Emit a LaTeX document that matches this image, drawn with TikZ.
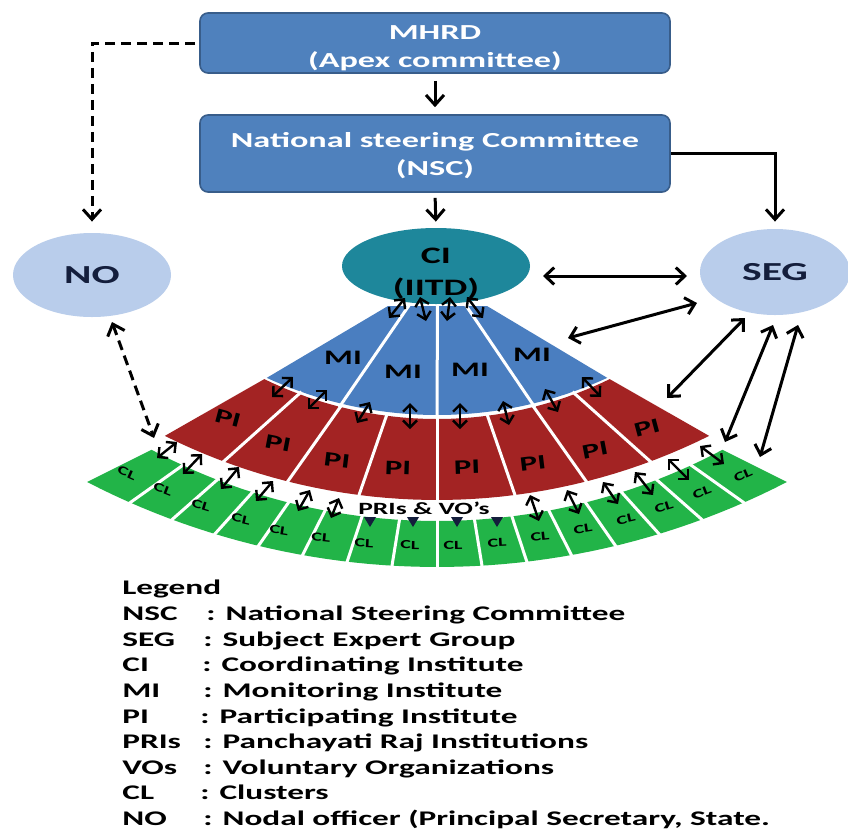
\documentclass[tikz,border=0pt]{standalone}
\usepackage{fontspec}
\setmainfont{Carlito}[FakeStretch=1.6]
\usetikzlibrary{arrows.meta,calc,shapes.geometric}
\definecolor{boxblue}{RGB}{79,129,189}
\definecolor{boxedge}{RGB}{56,93,138}
\definecolor{miblue}{RGB}{74,126,192}
\definecolor{pired}{RGB}{163,35,35}
\definecolor{clgreen}{RGB}{34,180,72}
\definecolor{citeal}{RGB}{30,135,155}
\definecolor{lightblue}{RGB}{185,205,235}
\definecolor{darktext}{RGB}{20,30,60}
\begin{document}
\begin{tikzpicture}[x=0.5pt,y=-0.5pt,
  hbox/.style={draw=boxedge, line width=0.8pt, fill=boxblue, rounded corners=4pt,
    minimum width=235pt, text=white, align=center, inner sep=0pt,
    font=\bfseries\fontsize{10.7}{14}\selectfont},
  oval/.style={ellipse, fill=lightblue, inner sep=0pt, text=darktext,
    font=\bfseries\fontsize{13}{15}\selectfont},
  arr/.style={line width=1.5pt, -{Straight Barb[length=5pt,width=9pt]}},
  dsh/.style={line width=1.5pt, dash pattern=on 5pt off 3pt},
  dbl/.style={line width=1.5pt, {Straight Barb[length=4.5pt,width=8.5pt]}-{Straight Barb[length=4.5pt,width=8.5pt]}},
  dbls/.style={line width=1.2pt, {Straight Barb[length=3.5pt,width=7pt]}-{Straight Barb[length=3.5pt,width=7pt]}},
  divline/.style={white, line width=1.5pt},
  lab/.style={inner sep=0pt, text=black, font=\bfseries\fontsize{10.3}{12}\selectfont},
  cllab/.style={inner sep=0pt, text=black, font=\bfseries\fontsize{6.2}{7}\selectfont},
  leg/.style={anchor=base west, inner sep=0pt, text=black, font=\bfseries\fontsize{10.4}{13}\selectfont}
]
\useasboundingbox (0,0) rectangle (848,832);
\fill[white] (0,0) rectangle (848,832);

% ---------- fan bands ----------
\fill[miblue] (388,306) -- (487,306) -- plot[domain=24.6:-24.6, samples=40] ({437+409*sin(\x)},{6+409*cos(\x)}) -- cycle;
\fill[pired] plot[domain=-26:26, samples=40] ({437+394*sin(\x)},{25+394*cos(\x)})
  -- plot[domain=26.5:-26.5, samples=40] ({437+610*sin(\x)},{-110+610*cos(\x)}) -- cycle;
\fill[clgreen] plot[domain=-28:28, samples=50] ({437+608*sin(\x)},{-87+608*cos(\x)})
  -- plot[domain=27.3:-27.3, samples=50] ({437+763*sin(\x)},{-196+763*cos(\x)}) -- cycle;

% ---------- dividers ----------
\foreach \i/\t in {1/-0.557,2/0,3/0.557}
  \draw[divline] ({388+24.75*\i},300) -- ({437+413*sin(\t*24.6)},{6+413*cos(\t*24.6)});
\foreach \t in {-0.78,-0.54,-0.28,0,0.28,0.54,0.78}
  \draw[divline] ({437+391*sin(\t*26)},{25+391*cos(\t*26)}) -- ({437+614*sin(\t*26.5)},{-110+614*cos(\t*26.5)});
\foreach \k in {-7,...,7}
  \draw[divline] ({437+604*sin(\k/8*28)},{-87+604*cos(\k/8*28)}) -- ({437+767*sin(\k/8*27.3)},{-196+767*cos(\k/8*27.3)});

% ---------- labels ----------
\node[lab] (mi1) at (343,358) {MI};
\node[lab] (mi2) at (403,372) {MI};
\node[lab] (mi3) at (470,370) {MI};
\node[lab] (mi4) at (532,355) {MI};
\foreach \n/\px/\py/\r in {1/228/418/-15, 2/278/443/-11, 3/337/460/-7, 4/398/468/-2,
                            5/467/467/2, 6/533/463/7, 7/595/450/11, 8/647/428/15}
  \node[lab, rotate=\r] (pi\n) at (\px,\py) {PI};
\foreach \n/\px/\py/\r in {1/127/473/-24, 2/163/489/-21, 3/201/505/-17, 4/241/519/-13,
                            5/279/530/-9, 6/321/537/-6, 7/364/543/-3, 8/410/545/-1,
                            9/453/545/1, 10/497/543/3, 11/540/537/6, 12/583/529/9,
                            13/626/519/13, 14/664/507/17, 15/702/492/21, 16/743/475/24}
  \node[cllab, rotate=\r] (cl\n) at (\px,\py) {CL};
\node[inner sep=0pt, font=\bfseries\fontsize{8.6}{10}\selectfont] (pri) at (424,508) {PRIs \& VO’s};
\foreach \x in {370,413,457,497}
  \fill[darktext] ({\x-6},517) -- ({\x+6},517) -- (\x,527) -- cycle;

% ---------- small arrows in the fan ----------
\foreach \n/\xa/\ya/\xb/\yb in {
  m1/293/377/272/397, m2/327/390/308/409, m3/370/402/357/423, m4/410/403/410/429,
  m5/460/403/460/429, m6/503/401/509/425, m7/545/389/558/412, m8/582/377/601/397,
  p1/177/442/157/458, p2/202/454/183/474, p3/239/467/221/489, p4/273/481/256/501,
  p5/310/490/298/511, p6/339/498/331/518, p7/530/495/539/521, p8/567/490/579/514,
  p9/603/482/618/504, p10/635/472/653/495, p11/668/459/689/480, p12/700/446/724/464}{
  \coordinate (A\n) at (\xa,\ya);
  \coordinate (B\n) at (\xb,\yb);
  \draw[dbls] (A\n) -- (B\n);
}

% ---------- main nodes ----------
\node[hbox, minimum height=30pt] (mhrd) at (435,43) {\rule{0pt}{12.5pt}MHRD\\(Apex committee)};
\node[hbox, minimum height=38.5pt] (nsc) at (435,153.5) {\rule{0pt}{10pt}National steering Committee\\(NSC)};
\node[ellipse, fill=citeal, inner sep=0pt, minimum width=94pt, minimum height=38pt] (ci) at (436,266) {};
\node[align=center, inner sep=0pt, text=black, font=\bfseries\fontsize{11.8}{16}\selectfont] (citext) at (436,274) {CI\\(IITD)};
\node[oval, minimum width=79pt, minimum height=42pt] (no) at (92,275) {NO};
\node[oval, minimum width=75pt, minimum height=43pt] (seg) at (775,272) {SEG};

% ---------- CI to MI arrows ----------
\foreach \n/\xa/\ya/\xb/\yb in {c1/405/298/389/318, c2/420/297/426/321, c3/450/297/447/321, c4/467/297/483/318}{
  \coordinate (A\n) at (\xa,\ya);
  \coordinate (B\n) at (\xb,\yb);
  \draw[dbls] (A\n) -- (B\n);
}

% ---------- connectors ----------
\draw[arr, shorten <=3.5pt, shorten >=3.5pt] (mhrd.south) -- (nsc.north);
\draw[arr, shorten <=2.5pt, shorten >=3pt] (nsc.south) -- (ci.north);
\draw[arr, shorten >=3.5pt] (nsc.east) -| (seg.north);
\draw[dsh, -{Straight Barb[length=5pt,width=9pt]}, shorten <=2pt, shorten >=5.5pt] (mhrd.west) -| (no.north);
\coordinate (noA) at (112,322);
\coordinate (noB) at (154,438);
\draw[dsh, {Straight Barb[length=5pt,width=9pt]}-{Straight Barb[length=5pt,width=9pt]}] (noA) -- (noB);
\foreach \n/\xa/\ya/\xb/\yb in {s1/543/276/687/276, s2/568/338/697/303, s3/667/398/745/318,
                                 s4/725/442/773/325, s5/760/457/798/325}{
  \coordinate (A\n) at (\xa,\ya);
  \coordinate (B\n) at (\xb,\yb);
  \draw[dbl] (A\n) -- (B\n);
}

% ---------- legend ----------
\node[leg] (lg0) at (122,594) {Legend};
\node[leg] (lg1) at (122,620) {\makebox[42pt][l]{NSC}: National Steering Committee};
\node[leg] (lg2) at (122,646) {\makebox[40.5pt][l]{SEG}: Subject Expert Group};
\node[leg] (lg3) at (122,671) {\makebox[40pt][l]{CI}: Coordinating Institute};
\node[leg] (lg4) at (122,697) {\makebox[40.5pt][l]{MI}: Monitoring Institute};
\node[leg] (lg5) at (122,723) {\makebox[39pt][l]{PI}: Participating Institute};
\node[leg] (lg6) at (122,748) {\makebox[40.5pt][l]{PRIs}: Panchayati Raj Institutions};
\node[leg] (lg7) at (122,774) {\makebox[40.5pt][l]{VOs}: Voluntary Organizations};
\node[leg] (lg8) at (122,799) {\makebox[39pt][l]{CL}: Clusters};
\node[leg] (lg9) at (122,825) {\makebox[40.5pt][l]{NO}: Nodal officer (Principal Secretary, State.};
\end{tikzpicture}
\end{document}
